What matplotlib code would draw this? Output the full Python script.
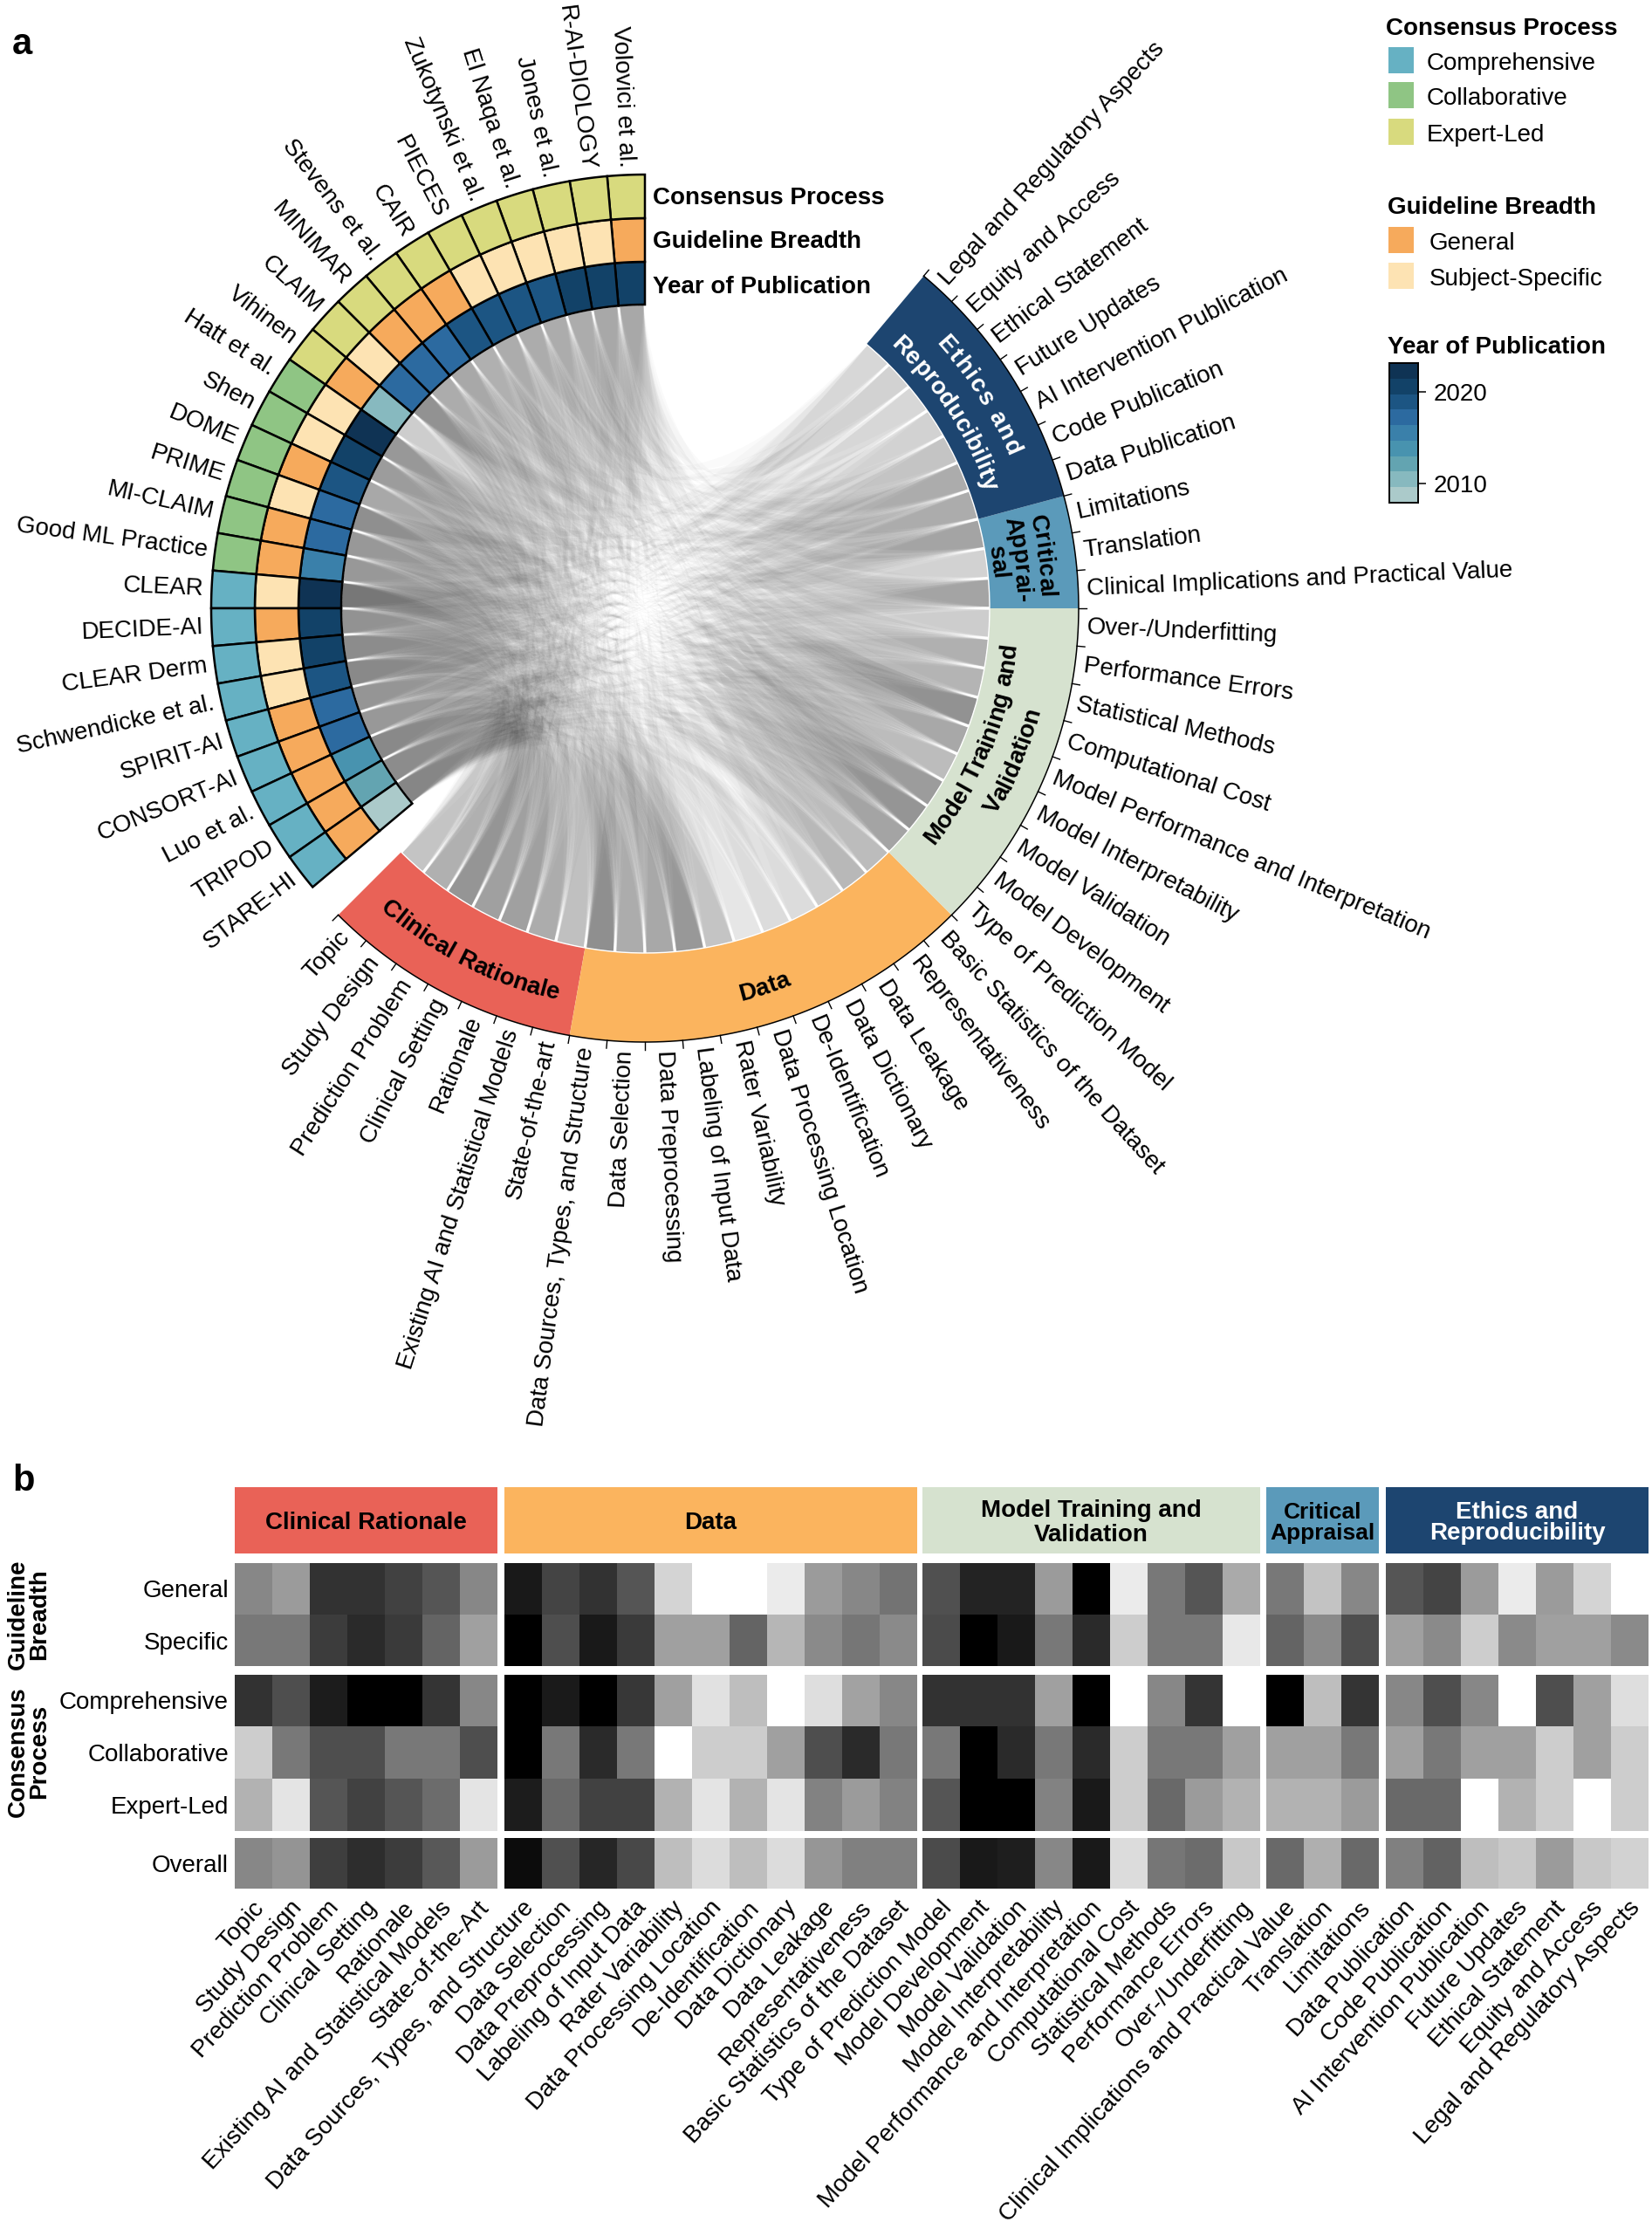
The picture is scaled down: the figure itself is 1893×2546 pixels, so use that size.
import numpy as np
import matplotlib
matplotlib.use("Agg")
import matplotlib.pyplot as plt
from matplotlib.colors import BoundaryNorm, ListedColormap
from matplotlib.font_manager import FontProperties
from matplotlib.patches import PathPatch, Polygon, Rectangle
from matplotlib.path import Path
from matplotlib.textpath import TextPath

plt.rcParams["font.family"] = ["Liberation Sans", "DejaVu Sans"]

# guidelines, listed from the top of the circle going counter-clockwise
guidelines = ["Volovici et al.", "R-AI-DIOLOGY", "Jones et al.", "El Naqa et al.", "Zukotynski et al.",
              "PIECES", "CAIR", "Stevens et al.", "MINIMAR", "CLAIM", "Vihinen", "Hatt et al.", "Shen",
              "DOME", "PRIME", "MI-CLAIM", "Good ML Practice", "CLEAR", "DECIDE-AI", "CLEAR Derm",
              "Schwendicke et al.", "SPIRIT-AI", "CONSORT-AI", "Luo et al.", "TRIPOD", "STARE-HI"]
consensus = ["Expert-Led"] * 11 + ["Collaborative"] * 6 + ["Comprehensive"] * 9
breadth = ["General", "Subject-Specific", "Subject-Specific", "Subject-Specific", "Subject-Specific",
           "Subject-Specific", "General", "General", "General", "Subject-Specific", "General",
           "Subject-Specific", "Subject-Specific", "General", "Subject-Specific", "General", "General",
           "Subject-Specific", "General", "Subject-Specific", "Subject-Specific", "General", "General",
           "General", "General", "General"]
years = [2020, 2020, 2020, 2019, 2019, 2019, 2019, 2018, 2018, 2018, 2010, 2022, 2020,
         2019, 2018, 2018, 2015, 2022, 2020, 2020, 2019, 2018, 2018, 2014, 2012, 2009]

sections = ["Clinical Rationale", "Data", "Model Training and Validation", "Critical Appraisal",
            "Ethics and Reproducibility"]
section_sizes = [7, 11, 9, 3, 7]
section_colors = ["#E96257", "#FBB45E", "#D6E2CF", "#5B9ABA", "#1D4570"]

items = ["Topic", "Study Design", "Prediction Problem", "Clinical Setting", "Rationale",
         "Existing AI and Statistical Models", "State-of-the-art",
         "Data Sources, Types, and Structure", "Data Selection", "Data Preprocessing",
         "Labeling of Input Data", "Rater Variability", "Data Processing Location", "De-Identification",
         "Data Dictionary", "Data Leakage", "Representativeness", "Basic Statistics of the Dataset",
         "Type of Prediction Model", "Model Development", "Model Validation", "Model Interpretability",
         "Model Performance and Interpretation", "Computational Cost", "Statistical Methods",
         "Performance Errors", "Over-/Underfitting",
         "Clinical Implications and Practical Value", "Translation", "Limitations",
         "Data Publication", "Code Publication", "AI Intervention Publication", "Future Updates",
         "Ethical Statement", "Equity and Access", "Legal and Regulatory Aspects"]
heat_labels = items[:6] + ["State-of-the-Art"] + items[7:]

# which guideline covers which item (estimated from the grey of the ribbons), groups as in sections
coverage = [
    "0110110 11110000100 111001110 101 1100000",
    "1011100 11011010010 011011010 010 1110000",
    "0010101 10110001001 110101101 101 0100010",
    "0111010 11010100010 111011001 100 1010000",
    "0101110 10101000001 011011100 011 0110001",
    "1011011 11110000010 110101010 100 1001000",
    "0110100 10010000110 111011011 001 0100100",
    "0011110 11111000001 011101100 110 1100000",
    "1101011 10100010100 101011010 101 0010010",
    "0111101 11110010011 111111011 101 1110000",
    "0010110 10110000000 011001000 100 0000000",
    "1011110 11111000101 111111110 001 1000010",
    "0111011 10111101010 111001100 101 1100100",
    "0011000 11110000111 111111011 000 1100000",
    "1110110 11011010101 011111110 111 0111010",
    "0111110 10111001100 111111110 101 1100000",
    "0011101 11110100011 111011101 011 0001110",
    "1111111 11111011111 111111111 111 1101101",
    "0111111 11011100010 110110101 111 0010111",
    "1111110 11110010011 111111110 101 1101010",
    "1011101 11111011010 111111101 101 1110011",
    "1111111 11010001001 001011010 101 1111101",
    "1111110 11011000010 110011010 101 1110101",
    "0111111 11110001011 111101111 111 1101001",
    "1111101 10111000101 111111110 101 1111001",
    "1111111 11100100111 111011110 111 1011110",
]

# panel b, grey level of each cell (0 black, 255 white)
heat_general = [135, 155, 50, 50, 65, 85, 135,
                25, 68, 50, 85, 212, 255, 255, 235, 155, 135, 115,
                80, 35, 35, 155, 0, 235, 120, 85, 170,
                120, 195, 135,
                85, 68, 155, 235, 155, 212, 255]
heat_specific = [120, 120, 60, 42, 58, 100, 160,
                 0, 78, 25, 58, 160, 160, 100, 182, 138, 118, 138,
                 75, 0, 25, 120, 42, 205, 120, 120, 232,
                 100, 138, 78,
                 160, 138, 205, 138, 160, 160, 138]
heat_comprehensive = [50, 78, 28, 0, 0, 52, 135,
                      0, 26, 0, 55, 160, 225, 190, 255, 222, 162, 135,
                      50, 50, 50, 160, 0, 255, 135, 52, 255,
                      0, 190, 52,
                      135, 78, 135, 255, 78, 160, 222]
heat_collaborative = [205, 120, 78, 78, 120, 120, 78,
                      0, 120, 42, 120, 255, 205, 205, 160, 78, 42, 120,
                      120, 0, 42, 120, 42, 205, 120, 120, 160,
                      160, 160, 120,
                      160, 120, 160, 160, 205, 160, 205]
heat_expert = [178, 228, 85, 65, 85, 108, 228,
               28, 105, 65, 65, 178, 228, 178, 228, 130, 155, 130,
               85, 0, 0, 130, 25, 205, 105, 155, 178,
               178, 178, 155,
               105, 105, 255, 178, 205, 255, 205]
heat_overall = [135, 148, 62, 45, 60, 88, 155,
                12, 80, 38, 72, 190, 220, 190, 220, 150, 128, 128,
                75, 25, 30, 135, 25, 220, 118, 108, 200,
                105, 175, 105,
                128, 98, 190, 200, 155, 200, 210]

consensus_colors = {"Comprehensive": "#66B1C3", "Collaborative": "#8FC584", "Expert-Led": "#D8DA7E"}
breadth_colors = {"General": "#F6AA5C", "Subject-Specific": "#FDE3B3"}
year_colors = ["#ABCACA", "#87B9BF", "#63A4B1", "#4893AF", "#3A80AA", "#2C6AA0", "#1C5583", "#124268", "#0F3354"]
year_edges = [2007.85, 2009.55, 2011.25, 2012.95, 2014.65, 2016.36, 2018.06, 2019.76, 2021.46, 2023.16]
year_cmap = ListedColormap(year_colors)
year_norm = BoundaryNorm(year_edges, year_cmap.N)

CX, CY = 739, 697
STEP = 5
G_START, I_START = 90, 225
R_IN_G, R_OUT = 348, 497
R_IN_I = 395
FS = 20

fig = plt.figure(figsize=(18.93, 25.46), dpi=100)
ax = fig.add_axes([0, 0, 1, 1])
ax.set_xlim(0, 1893)
ax.set_ylim(2546, 0)
ax.axis("off")


def pol(r, deg):
    t = np.radians(deg)
    return CX + r * np.cos(t), CY - r * np.sin(t)


def ring(r0, r1, a0, a1, **kw):
    t = np.linspace(a0, a1, 30)
    pts = [pol(r1, a) for a in t] + [pol(r0, a) for a in t[::-1]]
    ax.add_patch(Polygon(pts, closed=True, **kw))


def link(g, i):
    a1, a2 = G_START + g * STEP + 0.25, G_START + (g + 1) * STEP - 0.25
    b1, b2 = I_START + i * STEP + 0.25, I_START + (i + 1) * STEP - 0.25
    # control point pulled a little towards the two ends, so close sectors stay away from the middle
    ga, ia = np.radians((a1 + a2) / 2), np.radians((b1 + b2) / 2)
    cx = CX + 18 * (np.cos(ga) + np.cos(ia))
    cy = CY - 18 * (np.sin(ga) + np.sin(ia))
    # shift the control a bit per link, else all ribbons meet in one point and leave rings in the middle
    cx += ((g * 7 + i * 13) % 11 - 5) * 3.5
    cy += ((g * 11 + i * 5) % 9 - 4) * 3.5
    verts = [pol(R_IN_G - 1, a1), pol(R_IN_G - 1, a2), (cx, cy), pol(R_IN_I, b2), pol(R_IN_I, b1),
             (cx, cy), pol(R_IN_G - 1, a1)]
    codes = [Path.MOVETO, Path.LINETO, Path.CURVE3, Path.CURVE3, Path.LINETO, Path.CURVE3, Path.CURVE3]
    ax.add_patch(PathPatch(Path(verts, codes), facecolor="black", edgecolor="none", lw=0, alpha=0.02))


def radial_label(s, r, deg):
    x, y = pol(r, deg)
    deg = deg % 360
    if 90 < deg < 270:
        ax.text(x, y, s, rotation=deg - 180, rotation_mode="anchor", ha="right", va="center", fontsize=FS)
    else:
        ax.text(x, y, s, rotation=deg if deg < 90 else deg - 360, rotation_mode="anchor",
                ha="left", va="center", fontsize=FS)


def curved(s, r, mid, tops_in=True, color="black", size=FS, spread=1.0):
    fp = FontProperties(family="Liberation Sans", weight="bold")
    bar = TextPath((0, 0), "|", size=size, prop=fp).get_extents().x1

    def w(txt):
        return (TextPath((0, 0), txt + "|", size=size, prop=fp).get_extents().x1 - bar) * 100 / 72

    total = w(s)
    for k, ch in enumerate(s):
        if ch == " ":
            continue
        pos = ((w(s[:k]) + w(s[:k + 1])) / 2 - total / 2) * spread
        d = np.degrees(pos / r)
        deg = mid + d if tops_in else mid - d
        x, y = pol(r, deg)
        ax.text(x, y, ch, rotation=deg + 90 if tops_in else deg - 90, rotation_mode="anchor",
                ha="center", va="baseline", fontsize=size, fontweight="bold", color=color)


# ribbons of the chord diagram
for g, row in enumerate(coverage):
    for i, flag in enumerate(row.replace(" ", "")):
        if flag == "1":
            link(g, i)

# guideline rings
for g, name in enumerate(guidelines):
    a0, a1 = G_START + g * STEP, G_START + (g + 1) * STEP
    edge = dict(edgecolor="black", lw=1.8, joinstyle="miter")
    ring(R_IN_G, 397, a0, a1, facecolor=year_cmap(year_norm(years[g])), **edge)
    ring(397, 447, a0, a1, facecolor=breadth_colors[breadth[g]], **edge)
    ring(447, R_OUT, a0, a1, facecolor=consensus_colors[consensus[g]], **edge)
    radial_label(name, 506, (a0 + a1) / 2)

for y, s in zip([227, 277, 329], ["Consensus Process", "Guideline Breadth", "Year of Publication"]):
    ax.text(748, y, s, fontsize=FS, fontweight="bold", va="center", ha="left")

# item sectors
start = I_START
for size, col in zip(section_sizes, section_colors):
    ring(R_IN_I, R_OUT, start, start + size * STEP, facecolor=col, edgecolor="none")
    start += size * STEP
n_items = len(items)
arc = [pol(R_OUT, a) for a in np.linspace(I_START, I_START + n_items * STEP, 200)]
ax.plot(*zip(*arc), color="black", lw=1.1)
arc = [pol(R_IN_I, a) for a in np.linspace(I_START, I_START + n_items * STEP, 200)]
ax.plot(*zip(*arc), color="white", lw=1.0)
for i in range(n_items + 1):
    a = I_START + i * STEP
    ax.plot(*zip(pol(R_OUT, a), pol(R_OUT + 9, a)), color="black", lw=1.0)
for i, name in enumerate(items):
    radial_label(name, 507, I_START + (i + 0.5) * STEP)

curved("Clinical Rationale", 460, 243)
curved("Data", 463, 287.5)
curved("Model Training and", 428, 337.5)
curved("Validation", 467, 337.5)
curved("Critical", 453, 7.5, tops_in=False)
curved("Apprai-", 425, 7.5, tops_in=False)
curved("sal", 400, 7.5, tops_in=False)
curved("Ethics and", 451, 32.5, tops_in=False, color="white", spread=1.13)
curved("Reproducibility", 412, 33, tops_in=False, color="white")

# legends
ax.text(1588, 33, "Consensus Process", fontsize=FS, fontweight="bold", va="center")
for (y0, y1), k in zip([(54, 84), (94, 124), (136, 166)], ["Comprehensive", "Collaborative", "Expert-Led"]):
    ax.add_patch(Rectangle((1591, y0), 29, y1 - y0, facecolor=consensus_colors[k], edgecolor="none"))
    ax.text(1635, (y0 + y1) / 2 + 4, k, fontsize=FS, va="center")
ax.text(1590, 238, "Guideline Breadth", fontsize=FS, fontweight="bold", va="center")
for (y0, y1), k in zip([(260, 290), (301, 331)], ["General", "Subject-Specific"]):
    ax.add_patch(Rectangle((1591, y0), 29, y1 - y0, facecolor=breadth_colors[k], edgecolor="none"))
    ax.text(1638, (y0 + y1) / 2 + 4, k, fontsize=FS, va="center")
ax.text(1590, 398, "Year of Publication", fontsize=FS, fontweight="bold", va="center")

cax = fig.add_axes([1592 / 1893, 1 - 576 / 2546, 33 / 1893, 160 / 2546])
cax.pcolormesh([0, 1], year_edges, np.arange(9).reshape(-1, 1), cmap=year_cmap, vmin=-0.5, vmax=8.5)
cax.set_xticks([])
cax.yaxis.tick_right()
cax.set_yticks([2010, 2020])
cax.tick_params(axis="y", length=6.5, width=1.1, labelsize=FS, pad=6)
for sp in cax.spines.values():
    sp.set_linewidth(1.4)

# panel b
col_x0 = [269, 578, 1057, 1451, 1588]
CELL = 43
row_y = {"General": 1791, "Specific": 1850, "Comprehensive": 1919, "Collaborative": 1978,
         "Expert-Led": 2038, "Overall": 2106}
row_h = {"General": 59, "Specific": 59, "Comprehensive": 59, "Collaborative": 60,
         "Expert-Led": 60, "Overall": 58}
heat_rows = {"General": heat_general, "Specific": heat_specific, "Comprehensive": heat_comprehensive,
             "Collaborative": heat_collaborative, "Expert-Led": heat_expert, "Overall": heat_overall}
header_text = ["Clinical Rationale", "Data", "Model Training and\nValidation", "Critical\nAppraisal",
               "Ethics and\nReproducibility"]
header_spacing = [1.0, 1.0, 1.15, 0.95, 0.95]
header_fs = [FS, FS, FS, 19, FS]
header_fc = ["black", "black", "black", "black", "white"]

tick_x = []
pos = 0
for x0, size, col, txt, sp, hfs, tc in zip(col_x0, section_sizes, section_colors, header_text,
                                           header_spacing, header_fs, header_fc):
    x1 = x0 + size * CELL
    ax.add_patch(Rectangle((x0, 1704), x1 - x0, 76, facecolor=col, edgecolor="none"))
    ax.text((x0 + x1) / 2, 1745, txt, fontsize=hfs, fontweight="bold", color=tc, ha="center", va="center",
            linespacing=sp, multialignment="center")
    xs = x0 + CELL * np.arange(size + 1)
    for name, values in heat_rows.items():
        y0 = row_y[name]
        grey = np.array(values[pos:pos + size], dtype=float).reshape(1, -1)
        ax.pcolormesh(xs, [y0, y0 + row_h[name]], grey, cmap="gray", vmin=0, vmax=255, antialiased=False)
    tick_x.extend(x0 + CELL * (np.arange(size) + 0.5))
    pos += size

for name in heat_rows:
    ax.text(262, row_y[name] + row_h[name] / 2 + 3, name, fontsize=FS, ha="right", va="center")
ax.text(33, 1850, "Guideline\nBreadth", fontsize=FS, fontweight="bold", rotation=90, ha="center", va="center",
        linespacing=0.95, multialignment="center")
ax.text(33, 2007, "Consensus\nProcess", fontsize=FS, fontweight="bold", rotation=90, ha="center", va="center",
        linespacing=0.95, multialignment="center")
for x, s in zip(tick_x, heat_labels):
    ax.text(x + 8, 2182, s, rotation=47.5, rotation_mode="anchor", ha="right", va="center", fontsize=FS)

ax.text(14, 51, "a", fontsize=30, fontweight="bold", va="center")
ax.text(14, 1697, "b", fontsize=30, fontweight="bold", va="center")
ax.set_xlim(0, 1893)
ax.set_ylim(2546, 0)

fig.savefig("out.png", dpi=100)
